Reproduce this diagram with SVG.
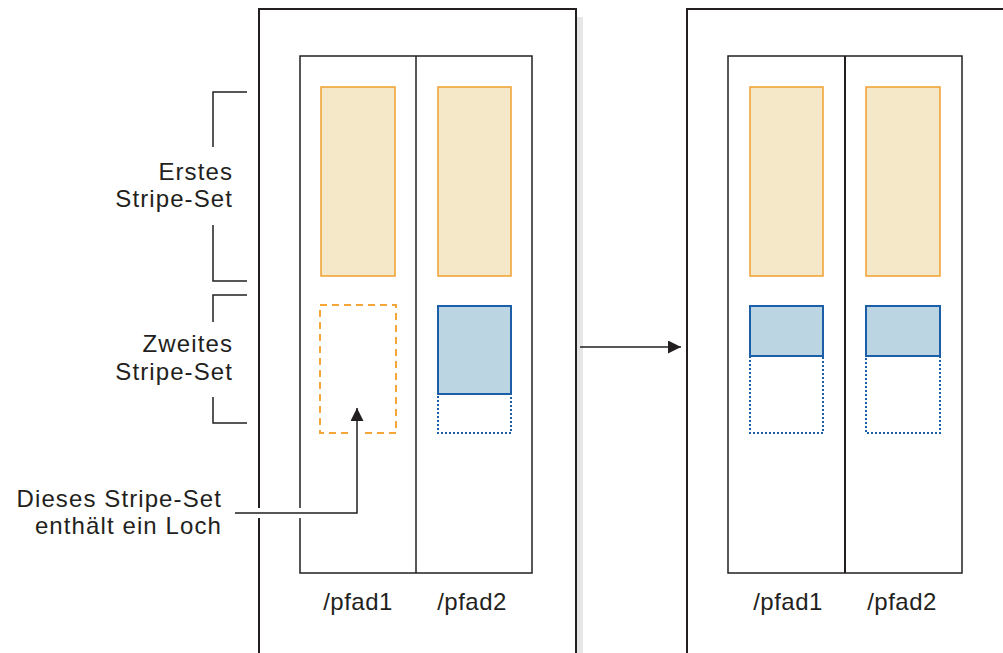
<svg xmlns="http://www.w3.org/2000/svg" width="1003" height="653" viewBox="0 0 1003 653">
<defs>
<style>
.box{fill:none;stroke:#231f20;stroke-width:2}
.thin{fill:none;stroke:#231f20;stroke-width:1.5}
.or{fill:#f5e8c8;stroke:#f0a030;stroke-width:1.5}
.ordash{fill:none;stroke:#f5a535;stroke-width:2;stroke-dasharray:7,5}
.bl{fill:#bcd5e2;stroke:#1a5fa8;stroke-width:2}
.bldot{fill:none;stroke:#1a5fa8;stroke-width:2;stroke-dasharray:2,2}
.t{font-family:"Liberation Sans",Arial,sans-serif;font-size:24px;letter-spacing:1.1px;fill:#231f20}
.p{font-family:"Liberation Sans",Arial,sans-serif;font-size:24px;letter-spacing:0.5px;fill:#231f20}
.ln{fill:none;stroke:#231f20;stroke-width:1.5}
</style>
<marker id="ah" viewBox="0 0 10 10" refX="10" refY="5" markerWidth="13" markerHeight="13" markerUnits="userSpaceOnUse" orient="auto">
<path d="M0,0 L10,5 L0,10 z" fill="#231f20"/>
</marker>
</defs>
<rect x="0" y="0" width="1003" height="653" fill="#fff"/>
<g id="left-panel">
<rect x="577" y="17" width="6" height="640" fill="#e6e6e6"/>
<rect class="box" x="259" y="9" width="317" height="660"/>
<rect class="thin" x="300" y="56" width="232" height="517"/>
<line class="thin" x1="416" y1="56" x2="416" y2="573"/>
</g>
<g id="left-stripes">
<rect class="or" x="321" y="87" width="74" height="189"/>
<rect class="or" x="438" y="87" width="73" height="189"/>
<rect class="ordash" x="320" y="305" width="76" height="128"/>
<rect class="bldot" x="438" y="306" width="73" height="127"/>
<rect class="bl" x="438" y="306" width="73" height="88"/>
</g>
<g id="right-panel">
<rect class="box" x="687" y="9" width="330" height="660"/>
<rect class="thin" x="728" y="56" width="234" height="517"/>
<line class="box" x1="845" y1="56" x2="845" y2="573"/>
</g>
<g id="right-stripes">
<rect class="or" x="750" y="87" width="73" height="189"/>
<rect class="or" x="866" y="87" width="74" height="189"/>
<rect class="bldot" x="750" y="306" width="73" height="127"/>
<rect class="bl" x="750" y="306" width="73" height="50"/>
<rect class="bldot" x="866" y="306" width="74" height="127"/>
<rect class="bl" x="866" y="306" width="74" height="50"/>
</g>
<g id="brackets">
<polyline class="ln" points="247,92 213,92 213,147"/>
<polyline class="ln" points="213,225 213,281 247,281"/>
<polyline class="ln" points="247,295 213,295 213,322"/>
<polyline class="ln" points="213,397 213,423 247,423"/>
</g>
<g id="labels">
<text class="t" x="233" y="180" text-anchor="end">Erstes</text>
<text class="t" x="233" y="207" text-anchor="end">Stripe-Set</text>
<text class="t" x="233" y="352" text-anchor="end">Zweites</text>
<text class="t" x="233" y="380" text-anchor="end">Stripe-Set</text>
<text class="t" x="222" y="507" text-anchor="end">Dieses Stripe-Set</text>
<text class="t" x="222" y="534" text-anchor="end">enthält ein Loch</text>
<text class="p" x="358" y="610" text-anchor="middle">/pfad1</text>
<text class="p" x="472" y="610" text-anchor="middle">/pfad2</text>
<text class="p" x="788" y="610" text-anchor="middle">/pfad1</text>
<text class="p" x="902" y="610" text-anchor="middle">/pfad2</text>
</g>
<g id="connectors">
<polyline points="235,513 357,513 357,420" fill="none" stroke="#fff" stroke-width="10"/>
<polyline class="ln" points="235,513 357,513 357,408" marker-end="url(#ah)"/>
<line class="ln" x1="580" y1="347" x2="681" y2="347" marker-end="url(#ah)"/>
</g>
</svg>
